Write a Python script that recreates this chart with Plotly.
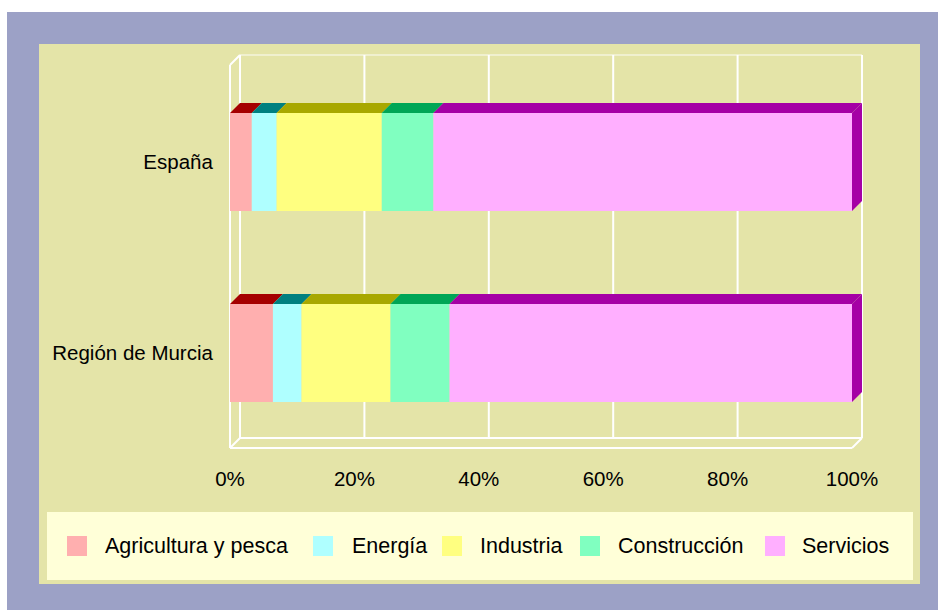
import plotly.graph_objects as go

# ---------------- data ----------------
categories = ["España", "Región de Murcia"]
sectors = ["Agricultura y pesca", "Energía", "Industria", "Construcción", "Servicios"]
espana = [3.5, 4.0, 16.9, 8.3, 67.3]
murcia = [6.9, 4.6, 14.3, 9.5, 64.7]
x_ticks = [0, 20, 40, 60, 80, 100]
x_tick_labels = ["0%", "20%", "40%", "60%", "80%", "100%"]

values_by_category = {"España": espana, "Región de Murcia": murcia}

# ---------------- styles ----------------
FRONT = ["#FFAFAF", "#AFFFFF", "#FFFF80", "#80FFC0", "#FFAFFF"]
TOP = ["#A50000", "#008080", "#A8A800", "#00A656", "#A500A5"]
OUTER = "#9CA1C6"
BEIGE = "#E4E4A8"
LEGEND_BG = "#FFFFD8"
FONT = "Arial, Liberation Sans, sans-serif"

W, H = 938, 610
PLOT_L, PLOT_R, PLOT_T, PLOT_B = 228, 865, 52, 450
PX_X = 6.22          # pixels per percent
X0_PX = 230          # pixel of 0 %
PX_Y = 191           # pixels per category step
Y0_PX = 353          # pixel of lowest category centre
BAR_W = 0.513
DX = 10 / PX_X
DY = 10 / PX_Y

x_range = [(PLOT_L - X0_PX) / PX_X, (PLOT_R - X0_PX) / PX_X]
y_range = [(Y0_PX - PLOT_B) / PX_Y, (Y0_PX - PLOT_T) / PX_Y]
y_floor = (Y0_PX - 448) / PX_Y
y_back_top = (Y0_PX - 55) / PX_Y


def pxx(p):
    return (p - PLOT_L) / (PLOT_R - PLOT_L)


def pxy(p):
    return (PLOT_B - p) / (PLOT_B - PLOT_T)


ypos = {c: len(categories) - 1 - i for i, c in enumerate(categories)}

fig = go.Figure()

# front faces
for k, s in enumerate(sectors):
    xs = [values_by_category[c][k] for c in categories]
    bases = [sum(values_by_category[c][:k]) for c in categories]
    fig.add_trace(go.Bar(
        y=[ypos[c] for c in categories], x=xs, base=bases, orientation="h",
        width=BAR_W, name=s, showlegend=False,
        marker=dict(color=FRONT[k], line=dict(width=0)),
        hovertemplate=s + ": %{x:.1f}%<extra></extra>",
    ))

# 3D top faces and right side face
for c in categories:
    vals = values_by_category[c]
    top = ypos[c] + BAR_W / 2
    bot = ypos[c] - BAR_W / 2
    for k, s in enumerate(sectors):
        x0 = sum(vals[:k])
        x1 = x0 + vals[k]
        fig.add_trace(go.Scatter(
            x=[x0, x0 + DX, x1 + DX, x1, x0],
            y=[top, top + DY, top + DY, top, top],
            mode="lines", fill="toself", fillcolor=TOP[k],
            line=dict(width=0, color=TOP[k]), showlegend=False, hoverinfo="skip"))
        if k == len(sectors) - 1:
            fig.add_trace(go.Scatter(
                x=[x1, x1, x1 + DX, x1 + DX, x1],
                y=[bot, top, top + DY, bot + DY, bot],
                mode="lines", fill="toself", fillcolor=TOP[k],
                line=dict(width=0, color=TOP[k]), showlegend=False, hoverinfo="skip"))

shapes = []
# background frames
shapes.append(dict(type="rect", xref="paper", yref="paper", x0=pxx(7), x1=pxx(938),
                   y0=pxy(610), y1=pxy(12), fillcolor=OUTER, line=dict(width=0), layer="below"))
shapes.append(dict(type="rect", xref="paper", yref="paper", x0=pxx(39), x1=pxx(920),
                   y0=pxy(584), y1=pxy(44), fillcolor=BEIGE, line=dict(width=0), layer="below"))
shapes.append(dict(type="rect", xref="paper", yref="paper", x0=pxx(47), x1=pxx(913),
                   y0=pxy(580), y1=pxy(512), fillcolor=LEGEND_BG, line=dict(width=0), layer="below"))

white = dict(color="white", width=2)
xmax = x_ticks[-1]
# back wall gridlines
for t in x_ticks:
    shapes.append(dict(type="line", xref="x", yref="y", x0=t + DX, x1=t + DX,
                       y0=y_floor + DY, y1=y_back_top, line=white, layer="below"))
# top back edge (faint)
shapes.append(dict(type="line", xref="x", yref="y", x0=DX, x1=xmax + DX,
                   y0=y_back_top, y1=y_back_top, line=dict(color="rgba(255,255,255,0.45)", width=2), layer="below"))
# front left edge
shapes.append(dict(type="line", xref="x", yref="y", x0=0, x1=0,
                   y0=y_floor, y1=y_back_top - DY, line=white, layer="below"))
shapes.append(dict(type="line", xref="x", yref="y", x0=0, x1=DX,
                   y0=y_back_top - DY, y1=y_back_top, line=white, layer="below"))
# floor
shapes.append(dict(type="line", xref="x", yref="y", x0=0, x1=xmax,
                   y0=y_floor, y1=y_floor, line=white, layer="below"))
shapes.append(dict(type="line", xref="x", yref="y", x0=DX, x1=xmax + DX,
                   y0=y_floor + DY, y1=y_floor + DY, line=white, layer="below"))
shapes.append(dict(type="line", xref="x", yref="y", x0=0, x1=DX,
                   y0=y_floor, y1=y_floor + DY, line=white, layer="below"))
shapes.append(dict(type="line", xref="x", yref="y", x0=xmax, x1=xmax + DX,
                   y0=y_floor, y1=y_floor + DY, line=white, layer="below"))

# legend (manual)
legend_marker_px = [67, 313, 442, 580, 765]
legend_text_px = [105, 352, 480, 618, 802]
annotations = []
for k, s in enumerate(sectors):
    mx = legend_marker_px[k]
    shapes.append(dict(type="rect", xref="paper", yref="paper", x0=pxx(mx), x1=pxx(mx + 20),
                       y0=pxy(556), y1=pxy(536), fillcolor=FRONT[k], line=dict(width=0), layer="below"))
    annotations.append(dict(xref="paper", yref="paper", x=pxx(legend_text_px[k] - 2), y=pxy(546),
                            xanchor="left", yanchor="middle", text=s, showarrow=False,
                            font=dict(family=FONT, size=21.5, color="black")))

fig.update_layout(
    width=W, height=H,
    margin=dict(l=PLOT_L, r=W - PLOT_R, t=PLOT_T, b=H - PLOT_B, pad=0),
    paper_bgcolor="white", plot_bgcolor="rgba(0,0,0,0)",
    barmode="overlay", showlegend=False,
    shapes=shapes, annotations=annotations,
    font=dict(family=FONT, size=20.5, color="black"),
    xaxis=dict(range=x_range, tickvals=x_ticks, ticktext=x_tick_labels,
               showgrid=False, zeroline=False, showline=False,
               ticks="outside", ticklen=10, tickcolor="rgba(0,0,0,0)",
               tickfont=dict(family=FONT, size=20.5, color="black"), fixedrange=True),
    yaxis=dict(range=y_range, tickvals=[ypos[c] for c in categories], ticktext=categories,
               showgrid=False, zeroline=False, showline=False,
               ticks="outside", ticklen=10, tickcolor="rgba(0,0,0,0)",
               tickfont=dict(family=FONT, size=20.5, color="black"), fixedrange=True),
)

fig.write_html("out.html", config={"displayModeBar": False},
               post_script="document.body.style.margin='0';")
